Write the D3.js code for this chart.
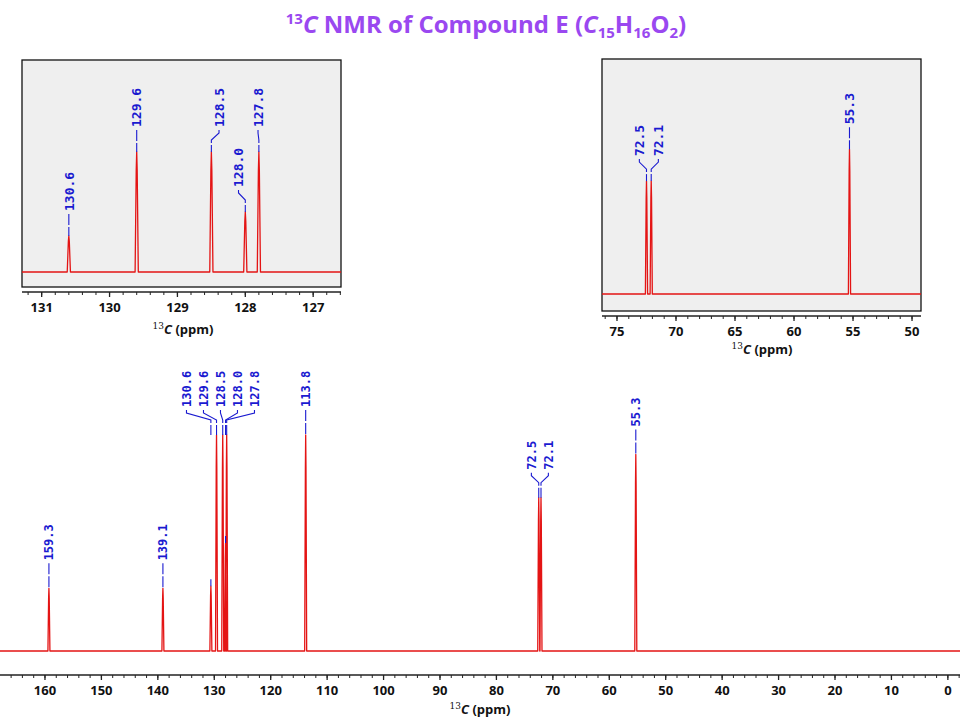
<!DOCTYPE html>
<html>
<head>
<meta charset="utf-8">
<script src="https://cdn.jsdelivr.net/npm/d3@7"></script>
<style>
  body { margin: 0; background: #fff; }
  svg { display: block; }
</style>
</head>
<body>
<svg id="nmr" width="960" height="720"></svg>
<script>
// peak list (ppm, relative height)
const shifts      = [159.3, 139.1, 130.6, 129.6, 128.5, 128.0, 127.8, 113.8, 72.5, 72.1, 55.3];
const intensities = [29,    29,    30,    100,   100,   50,    100,   100,   71,   71,   91];

// tick labels
const mainTicks   = [160, 150, 140, 130, 120, 110, 100, 90, 80, 70, 60, 50, 40, 30, 20, 10, 0];
const inset1Ticks = [131, 130, 129, 128, 127];
const inset2Ticks = [75, 70, 65, 60, 55, 50];

// which peak labels are drawn together
const mainGroups   = [[159.3], [139.1], [130.6, 129.6, 128.5, 128.0, 127.8], [113.8], [72.5, 72.1], [55.3]];
const inset1Groups = [[130.6], [129.6], [128.5, 128.0, 127.8]];
const inset2Groups = [[72.5, 72.1], [55.3]];

const peaks = shifts.map((s, i) => ({ppm: s, h: intensities[i]}));

const RED = "#e41414", BLUE = "#1a1ad0", PURPLE = "#9a48f0";
const tickFont = "'Open Sans', sans-serif";
const labelFont = "'DejaVu Sans Mono', monospace";

let svg = d3.select("#nmr");

// title
let title = svg.append("text")
  .attr("x", 486).attr("y", 33)
  .attr("text-anchor", "middle")
  .attr("font-family", tickFont)
  .attr("font-weight", "bold")
  .attr("font-size", 24)
  .attr("fill", PURPLE);
title.append("tspan").attr("font-size", 15).attr("dy", -9).text("13");
title.append("tspan").attr("dy", 9).attr("font-style", "italic").text("C");
title.append("tspan").text(" NMR of Compound E (");
title.append("tspan").attr("font-style", "italic").text("C");
title.append("tspan").attr("font-size", 15).attr("dy", 5).text("15");
title.append("tspan").attr("dy", -5).text("H");
title.append("tspan").attr("font-size", 15).attr("dy", 5).text("16");
title.append("tspan").attr("dy", -5).text("O");
title.append("tspan").attr("font-size", 15).attr("dy", 5).text("2");
title.append("tspan").attr("dy", -5).text(")");

function drawPanel(opt) {
  let g = svg.append("g");
  let x = d3.scaleLinear().domain(opt.domain).range(opt.xRange);
  let y = d3.scaleLinear().domain([0, 100]).range([opt.base, opt.top100]);

  if (opt.frame) {
    g.append("rect")
      .attr("x", opt.xRange[0]).attr("y", opt.frame[0])
      .attr("width", opt.xRange[1] - opt.xRange[0])
      .attr("height", opt.frame[1] - opt.frame[0])
      .attr("fill", "#efefef")
      .attr("stroke", "#111").attr("stroke-width", 1.3);
  }

  let clipId = "clip" + opt.name;
  svg.append("clipPath").attr("id", clipId).append("rect")
    .attr("x", opt.xRange[0]).attr("y", 0)
    .attr("width", opt.xRange[1] - opt.xRange[0]).attr("height", 720);

  // spectrum trace: baseline with a spike at every peak
  let visible = peaks.filter(p => p.ppm <= opt.domain[0] && p.ppm >= opt.domain[1])
    .sort((a, b) => b.ppm - a.ppm);
  let hw = opt.halfWidth;
  let pts = [[x(opt.domain[0]), y(0)]];
  visible.forEach(p => {
    let px = x(p.ppm);
    pts.push([px - hw, y(0)], [px - hw * 0.3, y(p.h * 0.85)], [px, y(p.h)], [px + hw * 0.3, y(p.h * 0.85)], [px + hw, y(0)]);
  });
  pts.push([x(opt.domain[1]), y(0)]);
  g.append("path")
    .attr("clip-path", "url(#" + clipId + ")")
    .attr("d", d3.line()(pts))
    .attr("fill", "none")
    .attr("stroke", RED)
    .attr("stroke-width", 1.3)
    .attr("stroke-linejoin", "round");

  // axis
  let ax = g.append("g").attr("transform", "translate(0," + opt.axisY + ")");
  let lo = Math.min(...opt.domain), hi = Math.max(...opt.domain);
  let minor = d3.range(Math.ceil(lo / opt.minor) * opt.minor, hi + 1e-9, opt.minor)
    .map(v => +v.toFixed(3));
  ax.append("line")
    .attr("x1", opt.xRange[0]).attr("x2", opt.xRange[1])
    .attr("stroke", "#222").attr("stroke-width", 1.3);
  ax.selectAll(".mt").data(minor).enter().append("line")
    .attr("x1", d => x(d)).attr("x2", d => x(d))
    .attr("y1", 0).attr("y2", 3)
    .attr("stroke", "#222").attr("stroke-width", 1);
  ax.selectAll(".Mt").data(opt.ticks).enter().append("line")
    .attr("x1", d => x(d)).attr("x2", d => x(d))
    .attr("y1", 0).attr("y2", 5)
    .attr("stroke", "#222").attr("stroke-width", 1.3);
  ax.selectAll(".tl").data(opt.ticks).enter().append("text")
    .attr("x", d => x(d)).attr("y", 20)
    .attr("text-anchor", "middle")
    .attr("font-family", tickFont).attr("font-weight", "bold")
    .attr("font-size", 13).attr("fill", "#111")
    .text(d => d);

  let at = g.append("text")
    .attr("x", opt.titleX).attr("y", opt.titleY)
    .attr("text-anchor", "middle")
    .attr("font-family", tickFont).attr("font-weight", "bold")
    .attr("font-size", 13).attr("fill", "#111");
  at.append("tspan").attr("font-family", "'DejaVu Serif', serif").attr("font-weight", "normal")
    .attr("font-size", 9).attr("dy", -5).text("13");
  at.append("tspan").attr("dy", 5).attr("font-style", "italic").text("C");
  at.append("tspan").text(" (ppm)");

  // peak labels
  let lab = g.append("g");
  opt.groups.forEach(grp => {
    let items = grp.map(s => peaks.find(p => p.ppm === s))
      .sort((a, b) => b.ppm - a.ppm)
      .map(p => ({p: p, px: x(p.ppm), top: y(p.h)}));
    let center = d3.mean(items, d => d.px);
    let level = d3.min(items, d => d.top);
    let n = items.length;
    items.forEach((d, i) => {
      let lx = n > 1 ? center + (i - (n - 1) / 2) * opt.spacing : d.px;
      let end = opt.ownLevel ? d.top : level;
      let yb = end - opt.gap;
      lab.append("text")
        .attr("transform", "translate(" + lx + "," + yb + ") rotate(-90)")
        .attr("dy", "0.36em")
        .attr("font-family", labelFont).attr("font-weight", "bold")
        .attr("font-size", opt.labelSize).attr("fill", BLUE)
        .text(d.p.ppm.toFixed(1));
      if (n === 1) {
        lab.append("line")
          .attr("x1", d.px).attr("x2", d.px)
          .attr("y1", yb + 3).attr("y2", end)
          .attr("stroke", BLUE).attr("stroke-width", 1.1)
          .attr("stroke-dasharray", "11,2");
      } else {
        lab.append("path")
          .attr("d", d3.line()([[lx, yb + 3], [lx, yb + 6], [d.px, yb + 13], [d.px, yb + 16]]))
          .attr("fill", "none").attr("stroke", BLUE).attr("stroke-width", 1.1);
        lab.append("line")
          .attr("x1", d.px).attr("x2", d.px)
          .attr("y1", yb + 18).attr("y2", end)
          .attr("stroke", BLUE).attr("stroke-width", 1.1);
      }
      if (!opt.ownLevel && d.top > end + 1) {
        lab.append("line")
          .attr("x1", d.px).attr("x2", d.px)
          .attr("y1", d.top - 7).attr("y2", d.top)
          .attr("stroke", BLUE).attr("stroke-width", 1.1);
      }
    });
  });
}

drawPanel({
  name: "main", domain: [167.97, -2.15], xRange: [0, 960],
  base: 651, top100: 435, axisY: 675, ticks: mainTicks, minor: 2,
  titleX: 480, titleY: 714, groups: mainGroups, ownLevel: false,
  spacing: 17, gap: 28, labelSize: 12, halfWidth: 1.0
});

drawPanel({
  name: "in1", domain: [131.29, 126.59], xRange: [22, 341], frame: [60, 287],
  base: 272, top100: 152, axisY: 292, ticks: inset1Ticks, minor: 0.2,
  titleX: 183, titleY: 334, groups: inset1Groups, ownLevel: true,
  spacing: 19.5, gap: 25, labelSize: 13, halfWidth: 1.6
});

drawPanel({
  name: "in2", domain: [76.27, 49.24], xRange: [602, 921], frame: [59, 311],
  base: 294, top100: 135, axisY: 316, ticks: inset2Ticks, minor: 1,
  titleX: 762, titleY: 354, groups: inset2Groups, ownLevel: true,
  spacing: 19, gap: 25, labelSize: 13, halfWidth: 1.1
});
</script>
</body>
</html>
